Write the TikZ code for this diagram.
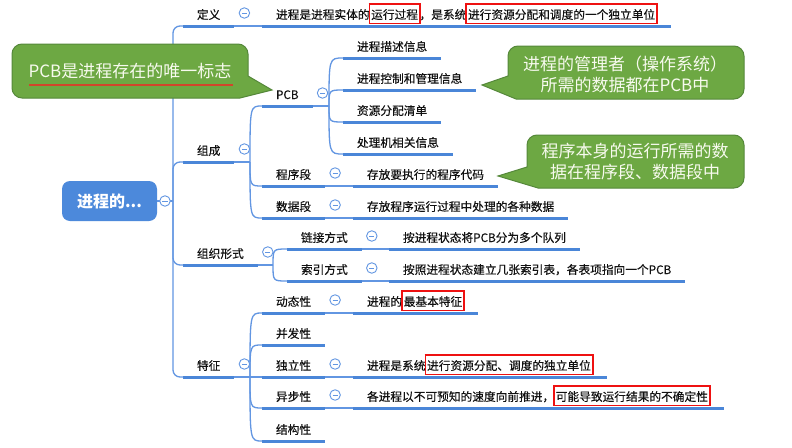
\documentclass[tikz,border=0pt]{standalone}
\usepackage{fontspec}
\setmainfont{Noto Sans CJK SC}
\newfontfamily\mmfont[FakeBold=0.35]{Noto Sans CJK SC}
\usetikzlibrary{calc}
\definecolor{barblue}{HTML}{4A86D8}
\definecolor{lineblue}{HTML}{6296E2}
\definecolor{rootblue}{HTML}{4C89DB}
\definecolor{cgreen}{HTML}{6DA843}
\definecolor{cgreenD}{HTML}{55883A}
\definecolor{ctext}{HTML}{F7FAEE}
\definecolor{boxred}{HTML}{EE1111}
\definecolor{ulred}{HTML}{D2452A}
\definecolor{txt}{HTML}{111111}

\newcommand\rbx[1]{\kern-1pt{\setlength\fboxrule{1.6pt}\setlength\fboxsep{0pt}\fcolorbox{boxred}{white}{\rule[-3.6pt]{0pt}{17.8pt}\kern1pt#1\kern1pt}}\kern-1pt}

\newcommand\mmtopic[4]{%
  \node[topic] (#1) at (#2,#3-7) {#4};
  \coordinate (#1-l) at ([yshift=-7pt]#1.base west);
  \coordinate (#1-r) at ([yshift=-7pt]#1.base east);
  \draw[bar] (#1-l) -- (#1-r);}

\begin{document}
\begin{tikzpicture}[x=1pt,y=-1pt,
  topic/.style={anchor=base west, inner xsep=14pt, inner ysep=2pt, outer sep=0pt,
    font=\mmfont\fontsize{11.7}{13}\selectfont, text=txt},
  bar/.style={draw=barblue, line width=3pt},
  conn/.style={draw=lineblue, line width=1.3pt},
  fold/.style={circle, draw=lineblue, line width=0.9pt, fill=white, minimum size=10.5pt, inner sep=0pt,
    path picture={\draw[lineblue, line width=0.9pt] ([xshift=-2.6pt]path picture bounding box.center) -- ([xshift=2.6pt]path picture bounding box.center);}},
  rootbox/.style={rounded corners=8pt, fill=rootblue, text=white, minimum width=95pt, minimum height=40pt,
    inner sep=0pt, font=\fontsize{16}{18}\selectfont\bfseries},
  callout/.style={fill=cgreen, draw=cgreenD, line width=1pt},
  ctxt/.style={text=ctext, font=\fontsize{17}{21}\selectfont, align=center, inner sep=0pt}
]
\useasboundingbox (0,0) rectangle (792,447);
\fill[white] (0,0) rectangle (792,447);

% root
\node[rootbox] (root) at (109.5,201) {进程的...};

% level 1
\mmtopic{ding}{183}{26}{定义}
\mmtopic{zc}{183}{162}{组成}
\mmtopic{zz}{183}{265}{组织形式}
\mmtopic{tz}{183}{377}{特征}

% definition
\mmtopic{defc}{262}{26}{进程是进程实体的\rbx{运行过程}，是系统\rbx{进行资源分配和调度的一个独立单位}}

% composition
\mmtopic{pcb}{262}{106}{PCB}
\mmtopic{cx}{262}{186}{程序段}
\mmtopic{sj}{262}{218}{数据段}
\mmtopic{p1}{343}{58}{进程描述信息}
\mmtopic{p2}{343}{90}{进程控制和管理信息}
\mmtopic{p3}{343}{122}{资源分配清单}
\mmtopic{p4}{343}{154}{处理机相关信息}
\mmtopic{cxc}{353}{186}{存放要执行的程序代码}
\mmtopic{sjc}{353}{218}{存放程序运行过程中处理的各种数据}

% organisation
\mmtopic{lj}{287}{249}{链接方式}
\mmtopic{sy}{287}{281}{索引方式}
\mmtopic{ljc}{389}{249}{按进程状态将PCB分为多个队列}
\mmtopic{syc}{389}{281}{按照进程状态建立几张索引表，各表项指向一个PCB}

% features
\mmtopic{dt}{262}{313}{动态性}
\mmtopic{bf}{262}{345}{并发性}
\mmtopic{dl}{262}{377}{独立性}
\mmtopic{yb}{262}{408}{异步性}
\mmtopic{jg}{262}{441}{结构性}
\mmtopic{dtc}{353}{313}{进程的\rbx{最基本特征}}
\mmtopic{dlc}{353}{377}{进程是系统\rbx{进行资源分配、调度的独立单位}}
\mmtopic{ybc}{353}{408}{各进程以不可预知的速度向前推进，\rbx{可能导致运行结果的不确定性}}

% connectors
\coordinate (trunk) at (173,201);
\draw[conn] (root.east) -- (trunk);
\foreach \n in {ding,zc,zz,tz} \draw[conn, rounded corners=7pt] (trunk) |- (\n-l);

\draw[conn] (ding-r) -- (defc-l);

\coordinate (zc-s) at (250,162);
\draw[conn] (zc-r) -- (zc-s);
\foreach \c in {pcb,cx,sj} \draw[conn] (zc-s) .. controls (zc-s |- \c-l) .. (\c-l);

\coordinate (pcb-s) at (329,106);
\draw[conn] (pcb-r) -- (pcb-s);
\foreach \c in {p1,p2,p3,p4} \draw[conn] (pcb-s) .. controls (pcb-s |- \c-l) .. (\c-l);

\draw[conn] (cx-r) -- (cxc-l);
\draw[conn] (sj-r) -- (sjc-l);

\coordinate (zz-s) at (273,265);
\draw[conn] (zz-r) -- (zz-s);
\foreach \c in {lj,sy} \draw[conn] (zz-s) .. controls (zz-s |- \c-l) .. (\c-l);
\draw[conn] (lj-r) -- (ljc-l);
\draw[conn] (sy-r) -- (syc-l);

\coordinate (tz-s) at (250,377);
\draw[conn] (tz-r) -- (tz-s);
\foreach \c in {dt,bf,dl,yb,jg} \draw[conn] (tz-s) .. controls (tz-s |- \c-l) .. (\c-l);
\draw[conn] (dt-r) -- (dtc-l);
\draw[conn] (dl-r) -- (dlc-l);
\draw[conn] (yb-r) -- (ybc-l);

% collapse markers
\node[fold] (root-fold) at (165,201) {};
\foreach \n in {ding,zc,pcb,cx,sj,zz,lj,sy,tz,dt,dl,yb}
  \node[fold] (\n-fold) at ([xshift=10pt,yshift=13pt]\n-r) {};

% callout 1
\draw[callout] (22,44) -- (238,44) arc[start angle=90,end angle=0,radius=10pt] -- (248,76) -- (272,90) -- (240,98)
  -- (22,98) arc[start angle=270,end angle=180,radius=10pt] -- (12,54) arc[start angle=180,end angle=90,radius=10pt] -- cycle;
\node[ctxt] (c1t) at (130,71) {PCB是进程存在的唯一标志};
\draw[ulred, line width=2.4pt] (29,85) -- (233,85);

% callout 2
\draw[callout] (518,46) -- (734,46) arc[start angle=90,end angle=0,radius=10pt] -- (744,89) arc[start angle=0,end angle=-90,radius=10pt]
  -- (516,99) -- (482,85) -- (508,76) -- (508,56) arc[start angle=180,end angle=90,radius=10pt] -- cycle;
\node[ctxt] (c2t) at (625,74.5) {进程的管理者（操作系统）\\所需的数据都在PCB中};

% callout 3
\draw[callout] (537,135) -- (734,135) arc[start angle=90,end angle=0,radius=10pt] -- (744,178) arc[start angle=0,end angle=-90,radius=10pt]
  -- (538,188) -- (498,176) -- (527,167) -- (527,145) arc[start angle=180,end angle=90,radius=10pt] -- cycle;
\node[ctxt] (c3t) at (635,162) {程序本身的运行所需的数\\据在程序段、数据段中};
\end{tikzpicture}
\end{document}
